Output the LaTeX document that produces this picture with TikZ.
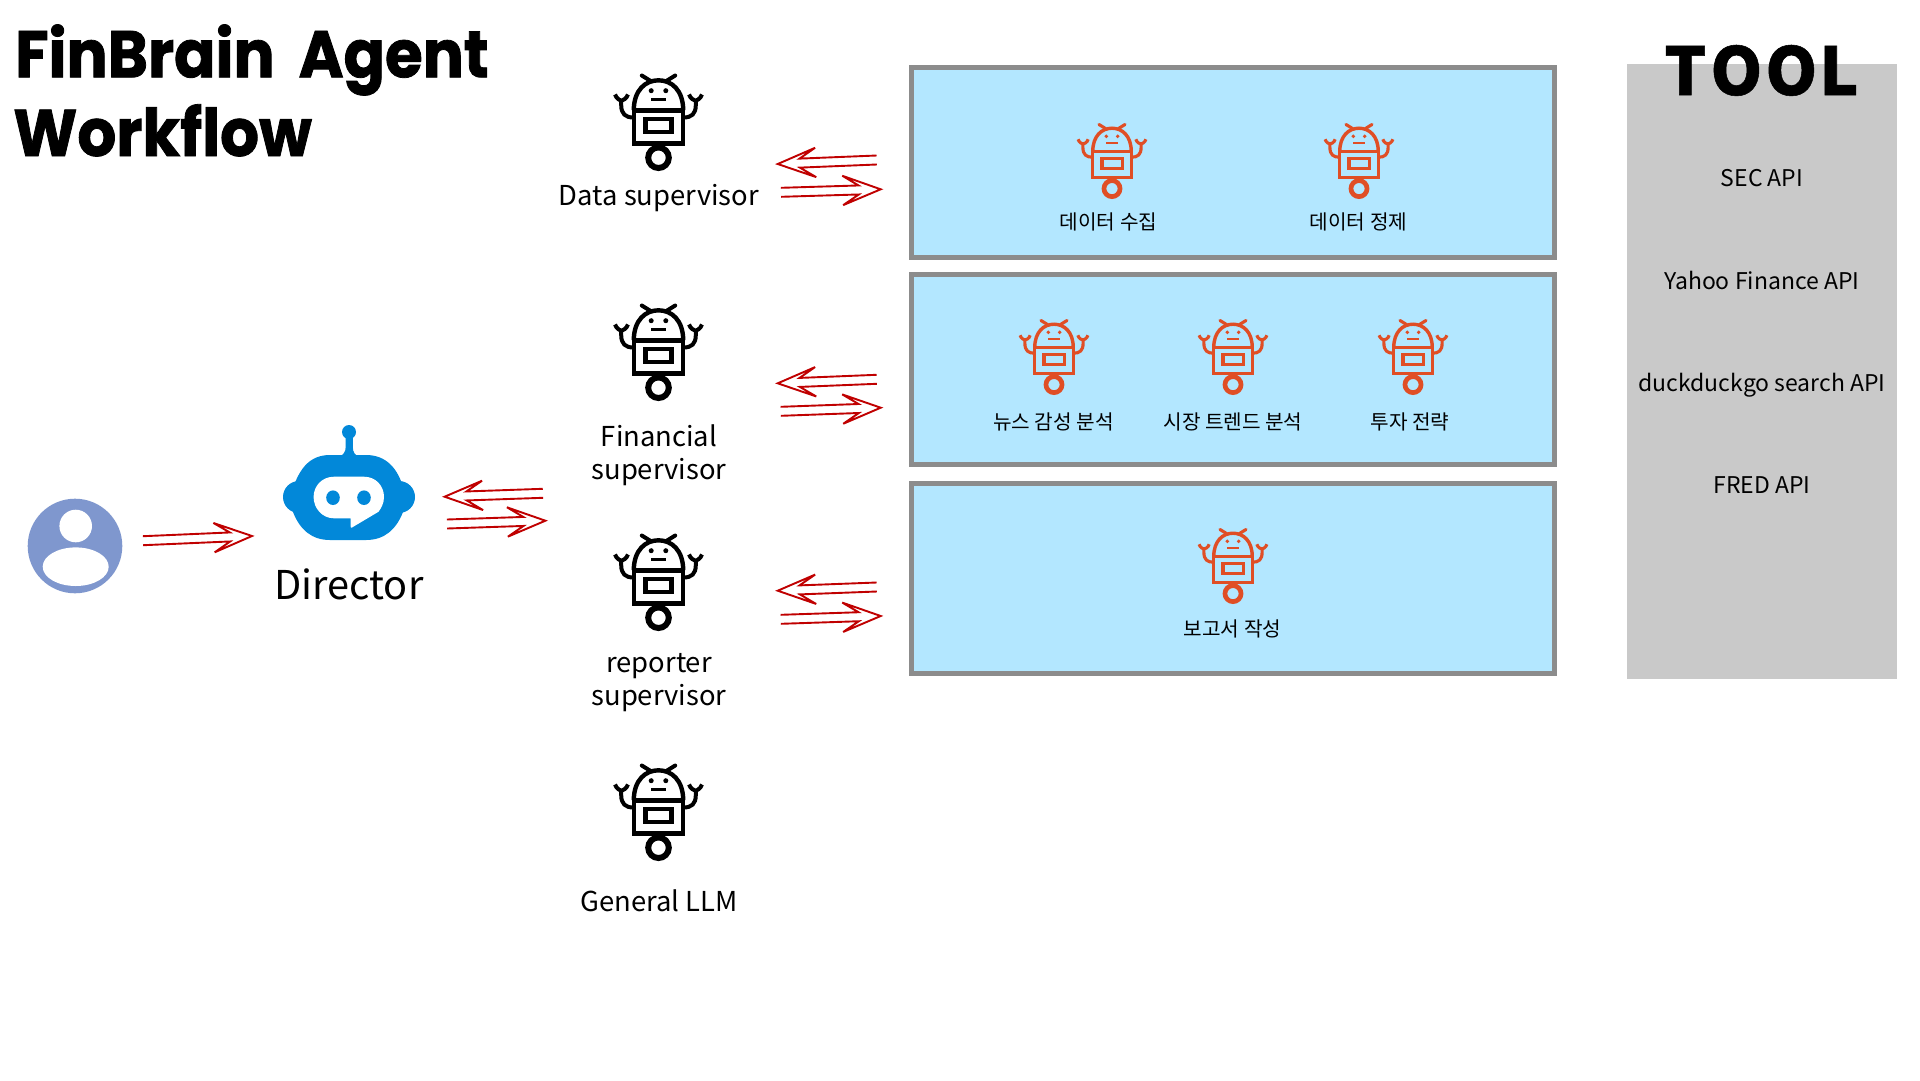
\documentclass[tikz,border=0pt]{standalone}
\usepackage{fontspec}
\setmainfont{Noto Sans CJK KR}
\newfontfamily\titlefont[BoldFeatures={FakeStretch=0.925,FakeBold=1.2}]{Poppins}
\newfontfamily\toolfont[BoldFeatures={FakeBold=0.8}]{Noto Sans CJK KR}
\usetikzlibrary{calc}
\definecolor{orangebot}{HTML}{E04E25}
\definecolor{bluebot}{HTML}{0288D9}
\definecolor{userblue}{HTML}{7F97CE}
\definecolor{flowred}{HTML}{C00000}
\definecolor{panelfill}{HTML}{B3E7FF}
\definecolor{panelline}{HTML}{8C8C8C}
\definecolor{toolgrey}{HTML}{C9C9C9}
\tikzset{
  panel/.style={draw=panelline,line width=5pt,fill=panelfill},
  flowline/.style={draw=flowred,line width=1.9pt,line join=miter},
  blacklabel/.style={font=\fontsize{27.4}{33}\selectfont,align=center,anchor=base,inner sep=0pt},
  koreanlabel/.style={font=\fontsize{20.2}{24}\selectfont,anchor=center,inner sep=0pt},
  apilabel/.style={font=\fontsize{23}{30}\selectfont,anchor=base,inner sep=0pt},
  titletext/.style={font=\titlefont\bfseries\fontsize{66}{78}\selectfont,anchor=base west,inner sep=0pt},
}
% robot: #1 colour, #2 x centre, #3 top, #4 scale
\newcommand\botfig[4]{%
\begin{scope}[shift={(#2,#3)},scale=#4,draw=#1,fill=#1]
  \draw[line width=6pt*#4,fill=none] (0,83.7) circle (10.3);
  \draw[line width=4.4pt*#4,fill=none] (-24.7,36.3) rectangle (24.7,69.3);
  \draw[line width=4.2pt*#4,fill=none] (-13,44.7) rectangle (13,58);
  \draw[line width=4.4pt*#4,fill=none] (-24.7,36.3) .. controls (-24.7,16) and (-13,6.3) .. (0,6.3) .. controls (13,6.3) and (24.7,16) .. (24.7,36.3);
  \draw[line width=4pt*#4,line cap=round] (-8.3,6.7) -- (-16.7,1.5);
  \draw[line width=4pt*#4,line cap=round] (8.3,6.7) -- (16.7,1.5);
  \fill (-7.3,16.7) circle (2.5);
  \fill (7.3,16.7) circle (2.5);
  \draw[line width=2.4pt*#4] (-7.5,25.3) -- (7.5,25.3);
  \foreach \s in {-1,1}{
    \draw[line width=4pt*#4,fill=none] (\s*25,43.5) .. controls (\s*33,43.5) and (\s*37.3,40) .. (\s*37.3,31) -- (\s*37.3,25);
    \draw[line width=4pt*#4,fill=none] (\s*43.5,20.5) .. controls (\s*42,25) and (\s*38,26.5) .. (\s*37.3,26.5) .. controls (\s*36,26.5) and (\s*32,25) .. (\s*30.5,20.5);
  }
\end{scope}}
% hollow arrow between named coordinates
\newcommand\flowarrow[2]{%
\draw[flowline]
  ($(#1)!4.5pt!90:(#2)$) -- ($(#2)!22pt!(#1)!4.5pt!-90:(#1)$) -- ($(#2)!38pt!(#1)!14.7pt!-90:(#1)$)
  -- (#2) -- ($(#2)!38pt!(#1)!14.7pt!90:(#1)$) -- ($(#2)!22pt!(#1)!4.5pt!90:(#1)$) -- ($(#1)!4.5pt!-90:(#2)$);}
\begin{document}
\begin{tikzpicture}[x=1pt,y=-1pt]
\useasboundingbox (0,0) rectangle (1920,1080);
\fill[white] (0,0) rectangle (1920,1080);
% title
\node[titletext] (title1) at (15,77.3) {FinBrain\kern11pt{} Agent};
\node[titletext] (title2) at (13,156) {Workflow};
% panels
\path[panel] (911.5,67.5) rectangle (1554.5,257.5);
\path[panel] (911.5,274.5) rectangle (1554.5,464.5);
\path[panel] (911.5,483.5) rectangle (1554.5,673.5);
% tool column
\fill[toolgrey] (1627,64) rectangle (1897,679);
\node[font=\toolfont\bfseries\fontsize{66}{70}\selectfont,anchor=base,inner sep=0pt] (tooltitle) at (1761.5,95) {T\kern4pt O\kern3pt O\kern2pt L};
\node[apilabel] (sec) at (1762,186.7) {SEC API};
\node[apilabel] (yahoo) at (1762,289.2) {Yahoo Finance API};
\node[apilabel] (duck) at (1762,391.7) {duckduckgo search API};
\node[apilabel] (fred) at (1762,493.7) {FRED API};
% user
\fill[userblue] (75,546) circle (47.3);
\fill[white] (75.7,526) circle (16.3);
\fill[white] (75.7,566.7) ellipse (33 and 19.3);
% director
\begin{scope}[fill=bluebot]
  \fill (299,497) circle (16);
  \fill (399,497) circle (16);
  \fill (330,455) -- (366,455) .. controls (386,455) and (398,468) .. (404,490) .. controls (404,500) and (404,505) .. (403,512)
     .. controls (396,530) and (384,540) .. (366,540) -- (330,540) .. controls (312,540) and (300,530) .. (293,512) .. controls (292,505) and (292,495) .. (293,488) .. controls (300,468) and (310,455) .. (330,455) -- cycle;
  \fill (349,432) circle (7);
  \fill (345.7,436) -- (352.8,436) -- (352.8,447) .. controls (352.8,452) and (355,455) .. (358,456) -- (340,456) .. controls (343,455) and (345.7,452) .. (345.7,447) -- cycle;
\end{scope}
\fill[white] (334,476.7) -- (364,476.7) .. controls (376,476.7) and (384,486) .. (384,497) .. controls (384,504) and (381,508) .. (378.6,511.7) -- (352,527.5) .. controls (351,528) and (350.7,527.7) .. (350.7,526.5) -- (350.7,518.3) -- (334,518.3) .. controls (322,518.3) and (313.6,508) .. (313.6,497) .. controls (313.6,486) and (322,476.7) .. (334,476.7) -- cycle;
\fill[bluebot] (333,497.7) ellipse (6.8 and 7.3);
\fill[bluebot] (364,497.7) ellipse (6.8 and 7.3);
\node[font=\fontsize{39.7}{48}\selectfont,anchor=base,inner sep=0pt] (director) at (349,599) {Director};
% black robots
\botfig{black}{658.5}{74}{1}
\botfig{black}{658.5}{304}{1}
\botfig{black}{658.5}{534}{1}
\botfig{black}{658.5}{764}{1}
\node[blacklabel] (datasup) at (659,205) {Data supervisor};
\node[blacklabel] (finsup) at (659,479.3) {Financial\\supervisor};
\node[blacklabel] (repsup) at (659,705) {reporter\\supervisor};
\node[blacklabel] (llm) at (659,911) {General LLM};
% orange robots
\botfig{orangebot}{1112}{123.3}{0.78}
\botfig{orangebot}{1359}{123.3}{0.78}
\botfig{orangebot}{1054}{319.3}{0.78}
\botfig{orangebot}{1233}{319.3}{0.78}
\botfig{orangebot}{1413}{319.3}{0.78}
\botfig{orangebot}{1233}{528.3}{0.78}
\node[koreanlabel] (collect) at (1108.5,221.7) {데이터 수집};
\node[koreanlabel] (clean) at (1358.5,221.7) {데이터 정제};
\node[koreanlabel] (news) at (1053.5,422.2) {뉴스 감성 분석};
\node[koreanlabel] (trend) at (1233,422.2) {시장 트렌드 분석};
\node[koreanlabel] (invest) at (1410,422.2) {투자 전략};
\node[koreanlabel] (report) at (1232.5,628.8) {보고서 작성};
% arrow ends
\coordinate (ua) at (143,540.7);   \coordinate (ub) at (252,536);
\coordinate (d1a) at (542.9,493.3); \coordinate (d1b) at (444.6,496.7);
\coordinate (d2a) at (447,524);    \coordinate (d2b) at (545.4,520.7);
\coordinate (r1a) at (876.7,160);  \coordinate (r1b) at (777.7,164);
\coordinate (r2a) at (781,192.3);  \coordinate (r2b) at (880.7,189.3);
\coordinate (r3a) at (876.7,379.3);\coordinate (r3b) at (777.7,383.3);
\coordinate (r4a) at (780.7,411.3);\coordinate (r4b) at (880.7,407.7);
\coordinate (r5a) at (876.7,587);  \coordinate (r5b) at (777.7,590.7);
\coordinate (r6a) at (780.7,619.3);\coordinate (r6b) at (880.7,616);
\flowarrow{ua}{ub}
\flowarrow{d1a}{d1b}
\flowarrow{d2a}{d2b}
\flowarrow{r1a}{r1b}
\flowarrow{r2a}{r2b}
\flowarrow{r3a}{r3b}
\flowarrow{r4a}{r4b}
\flowarrow{r5a}{r5b}
\flowarrow{r6a}{r6b}
\end{tikzpicture}
\end{document}
